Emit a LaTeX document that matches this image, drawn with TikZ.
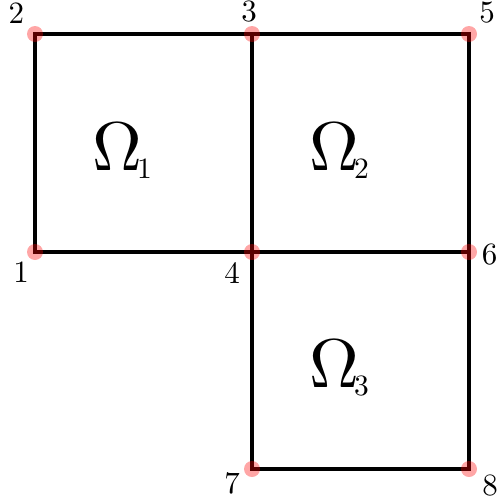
\documentclass[tikz,border=0pt]{standalone}
\tikzset{
  edge/.style={line width=4pt, line join=miter},
  vdot/.style={circle, fill=red, fill opacity=0.35, minimum size=16pt, inner sep=0pt},
  vlab/.style={inner sep=0pt},
  dom/.style={inner sep=0pt, anchor=base west}
}
\newcommand{\vtxt}[1]{\scalebox{3.1}{#1}}
\newcommand{\domlabel}[1]{\scalebox{6.9}{$\Omega$}\kern-5pt\raisebox{-8pt}{\scalebox{2.95}{#1}}}
\begin{document}
\begin{tikzpicture}[x=1pt,y=-1pt]
\useasboundingbox (0,0) rectangle (496,501);
\coordinate (p1) at (35,252);
\coordinate (p2) at (35,34);
\coordinate (p3) at (252,34);
\coordinate (p4) at (252,252);
\coordinate (p5) at (469,34);
\coordinate (p6) at (469,252);
\coordinate (p7) at (252,469);
\coordinate (p8) at (469,469);
\draw[edge] (p2) -- (p5) -- (p6) -- (p8) -- (p7) -- (p4) -- (p1) -- cycle;
\draw[edge] (p3) -- (p4) -- (p6);
\foreach \p in {1,...,8} { \node[vdot] (d\p) at (p\p) {}; }
\node[vlab] (l1) at (21,272) {\vtxt{1}};
\node[vlab] (l2) at (16.5,13) {\vtxt{2}};
\node[vlab] (l3) at (249,11.5) {\vtxt{3}};
\node[vlab] (l4) at (232,273) {\vtxt{4}};
\node[vlab] (l5) at (487,13) {\vtxt{5}};
\node[vlab] (l6) at (489.5,255) {\vtxt{6}};
\node[vlab] (l7) at (232,483) {\vtxt{7}};
\node[vlab] (l8) at (490,486) {\vtxt{8}};
\node[dom] (o1) at (92,170) {\domlabel{1}};
\node[dom] (o2) at (309,170) {\domlabel{2}};
\node[dom] (o3) at (309,387) {\domlabel{3}};
\end{tikzpicture}
\end{document}
